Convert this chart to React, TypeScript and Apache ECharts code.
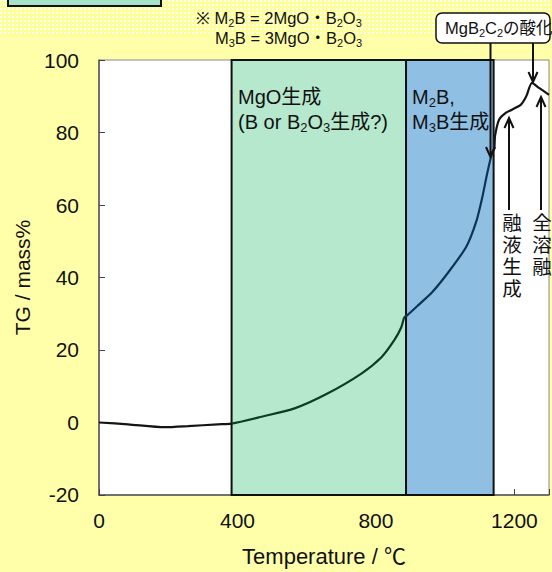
import React, { useEffect, useRef } from "react";
import * as echarts from "echarts";

const temps = [0, 84, 190, 257, 343, 383, 470, 565, 660, 758, 816, 853, 873, 882, 891, 925, 963, 1012, 1061, 1090, 1107, 1121, 1136, 1142, 1144, 1156, 1176, 1193, 1219, 1234, 1251, 1271, 1300];
const tgValues = [0, -0.5, -1.3, -1.0, -0.5, -0.3, 1.6, 3.9, 8.0, 13.5, 18.0, 22.7, 26.2, 29.0, 29.6, 32.6, 36.0, 41.8, 48.5, 55.5, 62.0, 68.5, 74.6, 75.6, 79.0, 83.6, 85.5, 86.3, 87.7, 89.9, 93.7, 92.3, 90.4];
const xTicks = [0, 400, 800, 1200];
const yTicks = [-20, 0, 20, 40, 60, 80, 100];
const regionMgO = [383, 887];
const regionMB = [887, 1140];

const FONT = "'Liberation Sans', Arial, 'Noto Sans CJK JP', sans-serif";

const patternSvg =
  "data:image/svg+xml;utf8," +
  encodeURIComponent(
    "<svg xmlns='http://www.w3.org/2000/svg' width='552' height='36'><defs><pattern id='p' width='4' height='4' patternUnits='userSpaceOnUse'><rect width='4' height='4' fill='#ffff9a'/><rect x='0' y='0' width='2' height='2' fill='#fffff0'/></pattern></defs><rect width='552' height='36' fill='url(#p)'/></svg>"
  );

export default function App() {
  const ref = useRef<HTMLDivElement>(null);
  useEffect(() => {
    if (!ref.current) return;
    const chart = echarts.init(ref.current, null, { renderer: "svg" });
    const data = temps.map((t, i) => [t, tgValues[i]]);
    const richBase = {
      n: { fontSize: 16.5, lineHeight: 20, fontFamily: FONT, color: "#111" },
      s: { fontSize: 11, lineHeight: 11, verticalAlign: "bottom", fontFamily: FONT, color: "#111" },
    };
    const richBig = {
      n: { fontSize: 20, lineHeight: 25, fontFamily: FONT, color: "#111" },
      s: { fontSize: 13, lineHeight: 13, verticalAlign: "bottom", fontFamily: FONT, color: "#111" },
    };
    const vArrow = (x: number, y1: number, y2: number) => {
      const dir = y2 > y1 ? -1 : 1;
      return [
        { type: "line", shape: { x1: x, y1, x2: x, y2 }, style: { stroke: "#111", lineWidth: 2 }, z: 20 },
        {
          type: "polyline",
          shape: { points: [[x - 4.5, y2 + dir * 10], [x, y2], [x + 4.5, y2 + dir * 10]] },
          style: { stroke: "#111", lineWidth: 2, fill: null },
          z: 20,
        },
      ];
    };
    chart.setOption({
      animation: false,
      backgroundColor: "#ffffaa",
      grid: {
        left: 99,
        right: 2,
        top: 60,
        bottom: 73,
        show: true,
        backgroundColor: "#ffffff",
        borderColor: "#888",
        borderWidth: 1,
      },
      xAxis: {
        type: "value",
        min: 0,
        max: 1300,
        interval: 400,
        axisLine: { show: true, onZero: false, lineStyle: { color: "#555", width: 1.5 } },
        axisTick: { show: true, inside: true, length: 6, lineStyle: { color: "#444" } },
        splitLine: { show: false },
        axisLabel: {
          fontSize: 21,
          color: "#111",
          fontFamily: FONT,
          margin: 15,
          formatter: (v: number) => (xTicks.includes(v) ? String(v) : ""),
        },
        name: "Temperature / ℃",
        nameLocation: "middle",
        nameGap: 50,
        nameTextStyle: { fontSize: 22, color: "#111", fontFamily: FONT },
      },
      yAxis: {
        type: "value",
        min: -20,
        max: 100,
        interval: 20,
        axisLine: { show: true, onZero: false, lineStyle: { color: "#555", width: 1.5 } },
        axisTick: { show: true, inside: true, length: 6, lineStyle: { color: "#444" } },
        splitLine: { show: false },
        axisLabel: {
          fontSize: 21,
          color: "#111",
          fontFamily: FONT,
          margin: 20,
          formatter: (v: number) => (yTicks.includes(v) ? String(v) : ""),
        },
        name: "TG / mass%",
        nameLocation: "middle",
        nameGap: 66,
        nameTextStyle: { fontSize: 21, color: "#111", fontFamily: FONT },
      },
      visualMap: {
        show: false,
        type: "piecewise",
        seriesIndex: 1,
        dimension: 0,
        pieces: [
          { lt: regionMgO[0], color: "#141414" },
          { gte: regionMgO[0], lt: regionMgO[1], color: "#0e3b22" },
          { gte: regionMB[0], lt: regionMB[1], color: "#0c3457" },
          { gte: regionMB[1], color: "#141414" },
        ],
      },
      series: [
        {
          type: "line",
          z: 1,
          data: [],
          markArea: {
            silent: true,
            label: { show: false },
            data: [
              [
                { xAxis: regionMgO[0], itemStyle: { color: "#b5e8cd", borderColor: "#111", borderWidth: 2 } },
                { xAxis: regionMgO[1] },
              ],
              [
                { xAxis: regionMB[0], itemStyle: { color: "#8fc0e4", borderColor: "#111", borderWidth: 2 } },
                { xAxis: regionMB[1] },
              ],
            ],
          },
        },
        {
          type: "line",
          z: 5,
          data,
          smooth: 0.25,
          showSymbol: false,
          lineStyle: { width: 2.2 },
        },
      ],
      graphic: [
        { type: "image", left: 0, top: 0, style: { image: patternSvg, x: 0, y: 0, width: 552, height: 36 }, z: 0 },
        { type: "rect", shape: { x: 8, y: -10, width: 153, height: 16 }, style: { fill: "#a8e2c8", stroke: "#111", lineWidth: 2 }, z: 10 },
        {
          type: "text",
          x: 196,
          y: 8,
          style: { text: "※ {n|M}{s|2}{n|B = 2MgO・B}{s|2}{n|O}{s|3}", rich: richBase, fill: "#111", fontSize: 16.5 },
          z: 10,
        },
        {
          type: "text",
          x: 215,
          y: 28,
          style: { text: "{n|M}{s|3}{n|B = 3MgO・B}{s|2}{n|O}{s|3}", rich: richBase, fill: "#111" },
          z: 10,
        },
        {
          type: "text",
          x: 238,
          y: 84,
          style: { text: "{n|MgO生成}\n{n|(B or B}{s|2}{n|O}{s|3}{n|生成?)}", rich: richBig, fill: "#111" },
          z: 10,
        },
        {
          type: "text",
          x: 412,
          y: 84,
          style: { text: "{n|M}{s|2}{n|B,}\n{n|M}{s|3}{n|B生成}", rich: richBig, fill: "#111" },
          z: 10,
        },
        { type: "rect", shape: { x: 436, y: 13, width: 114, height: 30, r: 6 }, style: { fill: "#fff", stroke: "#111", lineWidth: 1.5 }, z: 20 },
        {
          type: "text",
          x: 445,
          y: 18,
          style: { text: "{n|MgB}{s|2}{n|C}{s|2}{n|の酸化}", rich: richBase, fill: "#111" },
          z: 21,
        },
        ...vArrow(490.5, 43, 157),
        ...vArrow(533, 43, 82),
        ...vArrow(509, 210, 118),
        ...vArrow(541, 210, 97),
        {
          type: "text",
          x: 512,
          y: 212,
          style: { text: "融\n液\n生\n成", fontSize: 19.5, lineHeight: 22, align: "center", fill: "#111", fontFamily: FONT },
          z: 20,
        },
        {
          type: "text",
          x: 542,
          y: 212,
          style: { text: "全\n溶\n融", fontSize: 19.5, lineHeight: 22, align: "center", fill: "#111", fontFamily: FONT },
          z: 20,
        },
      ],
    });
    return () => chart.dispose();
  }, []);
  return <div ref={ref} style={{ position: "fixed", left: 0, top: 0, width: 552, height: 572 }} />;
}
